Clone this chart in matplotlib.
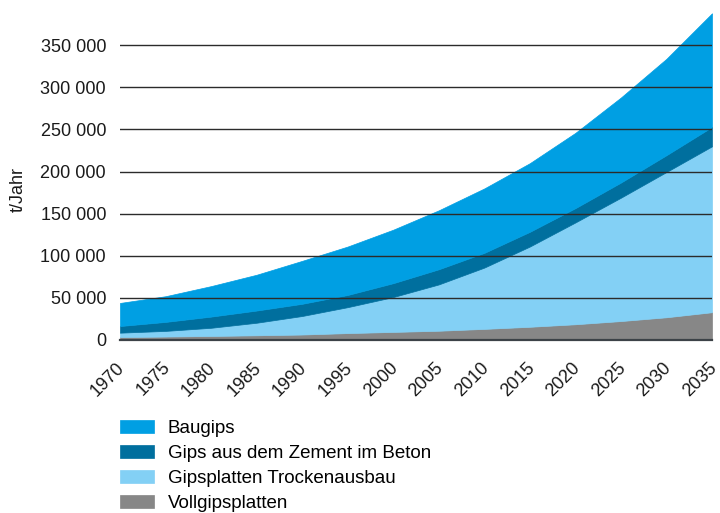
import matplotlib.pyplot as plt
import matplotlib.transforms as mtransforms
from matplotlib.ticker import FuncFormatter
import numpy as np

plt.rcParams['font.family'] = ['Liberation Sans', 'DejaVu Sans']

years = [1970, 1975, 1980, 1985, 1990, 1995, 2000, 2005,
         2010, 2015, 2020, 2025, 2030, 2035]

# t/Jahr
vollgips = [3500, 4100, 4800, 5600, 6500, 8200, 9600, 11000,
            13200, 15700, 18700, 22500, 27000, 33000]
gipsplatten = [5200, 6700, 9700, 14900, 22000, 30800, 41400, 55000,
               72800, 95300, 120900, 146500, 172500, 197000]
zement = [7900, 10700, 13300, 14500, 14500, 14500, 16500, 18000,
          17500, 17500, 17000, 18000, 20000, 23000]
baugips = [27400, 30500, 36200, 42500, 51000, 57500, 63500, 70000,
           76500, 81500, 89400, 101000, 114500, 135000]

labels = ["Vollgipsplatten", "Gipsplatten Trockenausbau",
          "Gips aus dem Zement im Beton", "Baugips"]
colors = ["#878787", "#83d0f5", "#006f9e", "#009fe3"]

fig = plt.figure(figsize=(7.2, 5.13), dpi=100)
ax = fig.add_axes([120 / 720, 1 - 340 / 513, 592 / 720, 328.4 / 513])

polys = ax.stackplot(years, vollgips, gipsplatten, zement, baugips,
                     colors=colors, labels=labels, zorder=1)
for p, c in zip(polys, colors):
    p.set_edgecolor(c)
    p.set_linewidth(0.5)

ax.set_xlim(1970, 2035)
ax.set_ylim(0, 390000)
ax.set_yticks(np.arange(0, 350001, 50000))
ax.set_xticks(years)
ax.yaxis.set_major_formatter(FuncFormatter(lambda v, _: f"{int(v):,}".replace(",", " ")))

for v in range(50000, 350001, 50000):
    ax.axhline(v, color="#2b2b2b", lw=1.0, zorder=3)

for s in ["top", "right", "left"]:
    ax.spines[s].set_visible(False)
ax.spines["bottom"].set_color("#3c4247")
ax.spines["bottom"].set_linewidth(1.6)
ax.spines["bottom"].set_zorder(4)

ax.tick_params(axis="both", length=0, colors="#1a1a1a", labelsize=13)
ax.tick_params(axis="y", pad=10)
ax.tick_params(axis="x", pad=18)
offset = mtransforms.ScaledTranslation(2 / 100, 0, fig.dpi_scale_trans)
for lbl in ax.get_xticklabels():
    lbl.set_rotation(45)
    lbl.set_ha("right")
    lbl.set_va("center")
    lbl.set_rotation_mode("anchor")
    lbl.set_transform(lbl.get_transform() + offset)

fig.text(18 / 720, 1 - 190 / 513, "t/Jahr", rotation=90, ha="center",
         va="center", fontsize=13, color="#1a1a1a")

handles, lbls = ax.get_legend_handles_labels()
fig.legend(handles[::-1], lbls[::-1], loc="upper left",
           bbox_to_anchor=(107 / 720, 1 - 407 / 513), frameon=False,
           fontsize=13.5, handlelength=1.8, handleheight=0.7,
           handletextpad=0.75, labelspacing=0.42, borderpad=0.2)

fig.savefig("out.png", dpi=100)
